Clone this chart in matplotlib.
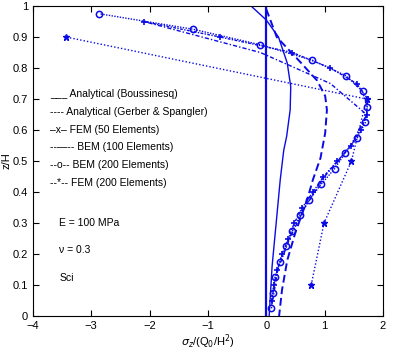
import numpy as np
import matplotlib
matplotlib.use("Agg")
import matplotlib.pyplot as plt

plt.rcParams['font.family'] = ['Liberation Sans', 'DejaVu Sans']

# Analytical (Boussinesq)
bous_x = [-0.26, 0.0, 0.21, 0.36, 0.42, 0.41, 0.35, 0.30, 0.24, 0.18, 0.10, 0.05]
bous_y = [1.0, 0.955, 0.90, 0.816, 0.74, 0.665, 0.58, 0.535, 0.44, 0.32, 0.16, 0.0]

# Analytical (Gerber & Spangler)
gs_x = [0.0, 0.18, 0.58, 0.87, 1.01, 1.04, 1.01, 0.93, 0.80, 0.70, 0.50, 0.36, 0.27, 0.22]
gs_y = [0.99, 0.90, 0.82, 0.76, 0.71, 0.665, 0.59, 0.51, 0.44, 0.375, 0.27, 0.18, 0.084, 0.0]

# FEM (50 Elements)
fem50_y = [0.1, 0.3, 0.5, 0.7, 0.9]
fem50_x = [0.77, 0.99, 1.46, 1.72, -3.43]

# BEM (100 Elements)
bem100_y = [0.05, 0.15, 0.25, 0.35, 0.45, 0.55, 0.65, 0.75, 0.85, 0.95]
bem100_x = [0.11, 0.2, 0.4, 0.66, 1.0, 1.45, 1.72, 1.1, -0.1, -2.1]

# BEM (200 Elements)
bem200_y = [0.025, 0.075, 0.125, 0.175, 0.225, 0.275, 0.325, 0.375, 0.425, 0.475,
            0.525, 0.575, 0.625, 0.675, 0.725, 0.775, 0.825, 0.875, 0.925, 0.975]
bem200_x = [0.09, 0.11, 0.15, 0.24, 0.34, 0.45, 0.58, 0.74, 0.94, 1.17,
            1.35, 1.56, 1.70, 1.73, 1.65, 1.37, 0.79, -0.1, -1.25, -2.86]

# FEM (200 Elements)
fem200_y = [0.05, 0.10, 0.15, 0.20, 0.25, 0.30, 0.35, 0.40, 0.45, 0.50,
            0.55, 0.60, 0.65, 0.70, 0.75, 0.80, 0.85, 0.90, 0.95]
fem200_x = [0.10, 0.13, 0.19, 0.27, 0.38, 0.48, 0.62, 0.80, 0.98, 1.22,
            1.45, 1.62, 1.72, 1.74, 1.55, 1.1, 0.45, -0.79, -2.1]

legend_lines = ["___ Analytical (Boussinesq)",
                "---- Analytical (Gerber & Spangler)",
                "\u2013x\u2013 FEM (50 Elements)",
                "--\u2014-- BEM (100 Elements)",
                "--o-- BEM (200 Elements)",
                "--*-- FEM (200 Elements)"]
notes = ["E = 100 MPa", "\u03bd = 0.3", "Sci"]

c = "#0a0ae6"

fig = plt.figure(figsize=(3.96, 3.54), dpi=100)
ax = fig.add_axes([0.083, 0.107, 0.884, 0.876])

ax.axvline(0, color=c, lw=1.6)
ax.plot(bous_x, bous_y, color=c, lw=1.0)
ax.plot(gs_x, gs_y, color=c, lw=1.4, ls=(0, (4, 2)))
ax.plot(fem50_x, fem50_y, color=c, lw=1.0, ls=(0, (1, 1.5)), marker="*", ms=4.5)
ax.plot(bem100_x, bem100_y, color=c, lw=1.0, ls=(0, (3, 1.5, 1, 1.5)))
ax.plot(bem200_x, bem200_y, color=c, lw=1.0, ls=(0, (1, 1)), marker="o", ms=4.5,
        mfc="none", mew=1.1)
ax.plot(fem200_x, fem200_y, color=c, lw=1.0, ls=(0, (2, 1, 1, 1)), marker="+", ms=4.5,
        mew=1.2)

for i, s in enumerate(legend_lines):
    ax.text(-3.7, 0.715 - i * 0.057, s, fontsize=7.5, va="center")
for i, s in enumerate(notes):
    ax.text(-3.55, 0.30 - i * 0.088, s, fontsize=7.5, va="center")

ax.set_xlim(-4, 2)
ax.set_ylim(0, 1)
ax.set_xticks([-4, -3, -2, -1, 0, 1, 2])
ax.set_yticks(np.arange(0, 1.01, 0.1))
ax.set_yticklabels(["0", "0.1", "0.2", "0.3", "0.4", "0.5", "0.6", "0.7", "0.8", "0.9", "1"])
ax.tick_params(direction="in", top=True, right=True, labelsize=8, length=4)
ax.set_xlabel(r"$\sigma_z$/(Q$_0$/H$^2$)", fontsize=8, labelpad=1)
ax.set_ylabel("z/H", fontsize=8, labelpad=1)

fig.savefig("out.png", dpi=100)
